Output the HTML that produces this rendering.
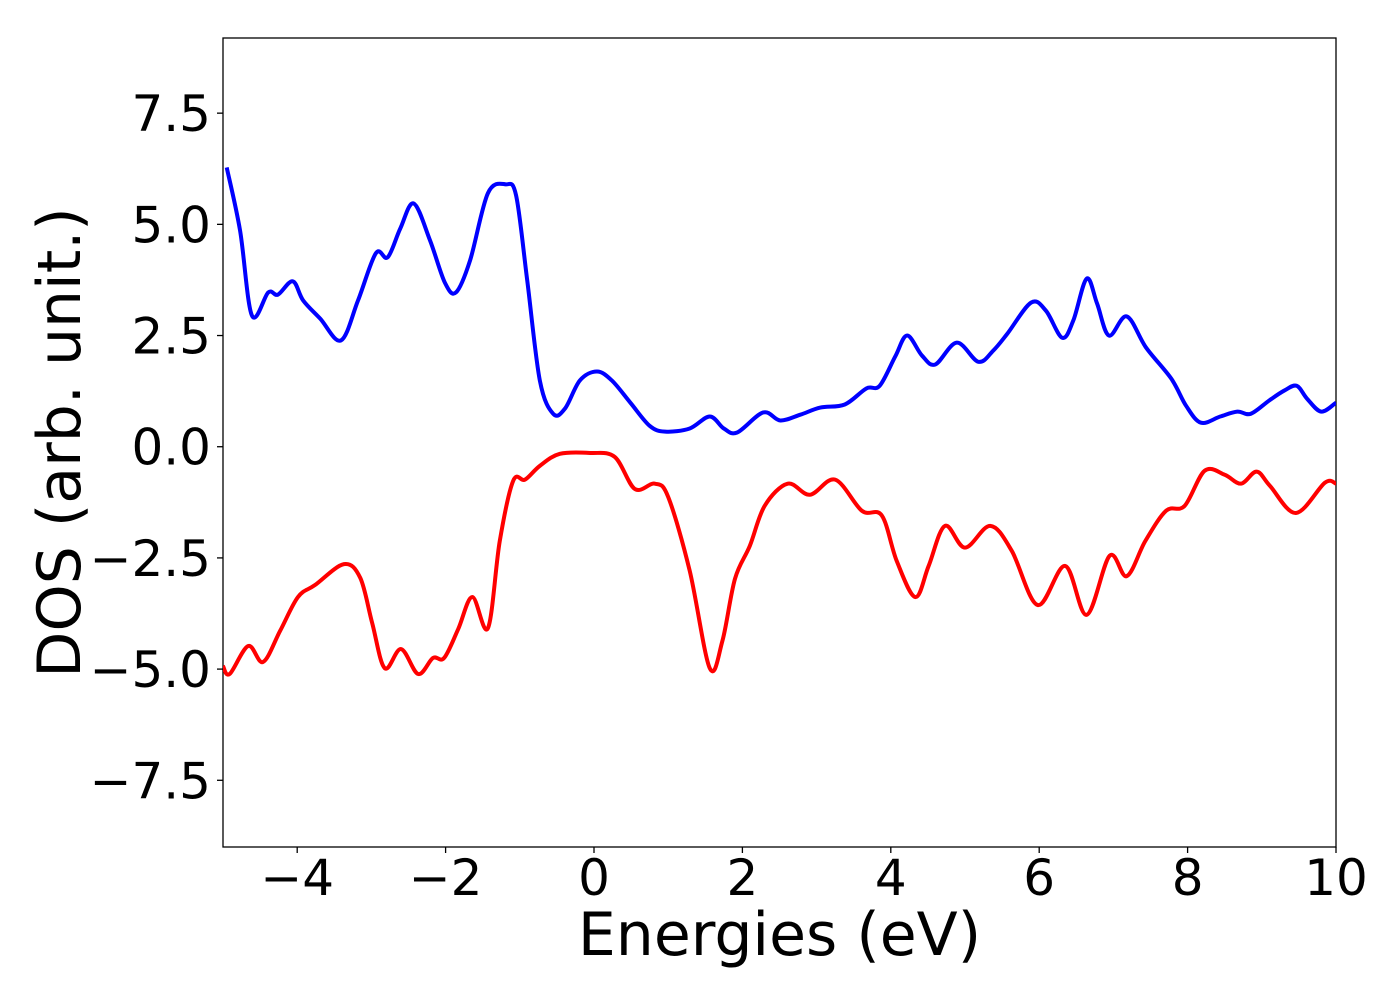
<!DOCTYPE html>
<html><head><meta charset="utf-8"><style>
body{margin:0;background:#fff;}
svg text{font-family:"DejaVu Sans","Liberation Sans",sans-serif;fill:#000;}
</style></head><body>
<svg width="1400" height="1000">
<g id="axes"></g>
<g id="series"></g>
</svg>
<script>
const upE=[-4.95,-4.77,-4.61,-4.39,-4.26,-4.06,-3.92,-3.69,-3.41,-3.18,-2.94,-2.78,-2.61,-2.43,-2.21,-2.01,-1.86,-1.67,-1.43,-1.19,-1.05,-0.90,-0.73,-0.55,-0.39,-0.19,0.04,0.24,0.49,0.75,0.96,1.29,1.56,1.75,1.93,2.28,2.51,2.78,3.05,3.38,3.67,3.85,4.06,4.22,4.42,4.60,4.89,5.18,5.38,5.57,5.89,6.09,6.31,6.46,6.64,6.78,6.94,7.18,7.44,7.78,7.98,8.18,8.44,8.67,8.85,9.10,9.30,9.47,9.61,9.80,10.0];
const upDOS=[6.28,4.86,2.95,3.47,3.42,3.72,3.29,2.88,2.39,3.29,4.35,4.26,4.91,5.47,4.64,3.69,3.47,4.19,5.70,5.90,5.65,3.74,1.49,0.74,0.86,1.49,1.69,1.49,0.99,0.47,0.34,0.41,0.68,0.41,0.32,0.77,0.59,0.72,0.88,0.95,1.31,1.37,2.03,2.50,2.05,1.85,2.34,1.91,2.16,2.54,3.24,3.06,2.45,2.84,3.78,3.22,2.50,2.93,2.23,1.53,0.92,0.54,0.68,0.79,0.74,1.04,1.26,1.37,1.08,0.79,0.99];
const dnE=[-5.0,-4.91,-4.66,-4.46,-4.23,-3.99,-3.76,-3.37,-3.15,-2.99,-2.82,-2.60,-2.37,-2.17,-2.02,-1.83,-1.64,-1.43,-1.27,-1.09,-0.93,-0.73,-0.46,-0.05,0.28,0.55,0.82,1.00,1.29,1.56,1.73,1.90,2.10,2.30,2.61,2.91,3.25,3.61,3.88,4.08,4.33,4.51,4.73,5.00,5.34,5.63,5.98,6.35,6.64,6.95,7.18,7.43,7.71,7.96,8.23,8.50,8.72,8.93,9.11,9.46,9.85,10.0];
const dnDOS=[-4.93,-5.11,-4.48,-4.84,-4.14,-3.38,-3.11,-2.64,-2.95,-3.96,-4.98,-4.55,-5.11,-4.75,-4.75,-4.10,-3.38,-4.08,-2.12,-0.77,-0.74,-0.43,-0.16,-0.14,-0.23,-0.95,-0.83,-1.13,-2.79,-4.98,-4.37,-2.97,-2.23,-1.33,-0.83,-1.08,-0.74,-1.44,-1.55,-2.57,-3.38,-2.68,-1.78,-2.27,-1.78,-2.34,-3.56,-2.68,-3.78,-2.45,-2.91,-2.12,-1.44,-1.33,-0.54,-0.63,-0.83,-0.56,-0.88,-1.49,-0.81,-0.83];
const xTicks=[-4,-2,0,2,4,6,8,10];
const yTicks=[-7.5,-5.0,-2.5,0.0,2.5,5.0,7.5];
const L=223,R=1336,T=38,B=847;
const xMin=-5,xMax=10,yMin=-9.0,yMax=9.19;
const sx=v=>L+(v-xMin)/(xMax-xMin)*(R-L);
const sy=v=>B-(v-yMin)/(yMax-yMin)*(B-T);
const NS='http://www.w3.org/2000/svg';
const ax=document.getElementById('axes'),se=document.getElementById('series');
function mk(tag,attrs,parent){const e=document.createElementNS(NS,tag);for(const k in attrs)e.setAttribute(k,attrs[k]);parent.appendChild(e);return e;}
const clip=mk('clipPath',{id:'pc'},ax);mk('rect',{x:L,y:T,width:R-L,height:B-T},clip);
const frame=mk('rect',{x:L,y:T,width:R-L,height:B-T,fill:'none',stroke:'#000','stroke-width':1.3},ax);


const fmt=v=>(v<0?'\u2212':'')+Math.abs(v);
xTicks.forEach(v=>{
 mk('line',{x1:sx(v),x2:sx(v),y1:B,y2:B+6,stroke:'#000','stroke-width':1.3},ax);
 const t=mk('text',{x:sx(v),y:B+48,'text-anchor':'middle','font-size':50},ax);
 t.textContent=fmt(v);
 
 
});
yTicks.forEach(v=>{
 mk('line',{x1:L-6,x2:L,y1:sy(v),y2:sy(v),stroke:'#000','stroke-width':1.3},ax);
 const t=mk('text',{x:L-12,y:sy(v)+18,'text-anchor':'end','font-size':50},ax);
 t.textContent=fmt(v.toFixed(1)*1===0?'0.0':v.toFixed(1)).replace('\u2212-','\u2212');
 t.textContent=(v<0?'\u2212':'')+Math.abs(v).toFixed(1);
 
 
});
const xl=mk('text',{x:(L+R)/2,y:955,'text-anchor':'middle','font-size':60},ax);
xl.textContent='Energies (eV)';


const yl=mk('text',{x:0,y:0,'text-anchor':'middle','font-size':60,transform:`translate(80,${(T+B)/2}) rotate(-90)`},ax);
yl.textContent='DOS (arb. unit.)';


function path(xs,ys){
 const p=xs.map((x,i)=>[sx(x),sy(ys[i])]);
 let d=`M${p[0][0]},${p[0][1]}`;
 for(let i=0;i<p.length-1;i++){
  const p0=p[i-1]||p[i],p1=p[i],p2=p[i+1],p3=p[i+2]||p2;
  const c1=[p1[0]+(p2[0]-p0[0])/6,p1[1]+(p2[1]-p0[1])/6];
  const c2=[p2[0]-(p3[0]-p1[0])/6,p2[1]-(p3[1]-p1[1])/6];
  d+=`C${c1[0]},${c1[1]} ${c2[0]},${c2[1]} ${p2[0]},${p2[1]}`;
 }
 return d;
}
const up=mk('path',{d:path(upE,upDOS),fill:'none',stroke:'#0000ff','stroke-width':4,'clip-path':'url(#pc)','stroke-linejoin':'round'},se);


const dn=mk('path',{d:path(dnE,dnDOS),fill:'none',stroke:'#ff0000','stroke-width':4,'clip-path':'url(#pc)','stroke-linejoin':'round'},se);


</script>
</body></html>
